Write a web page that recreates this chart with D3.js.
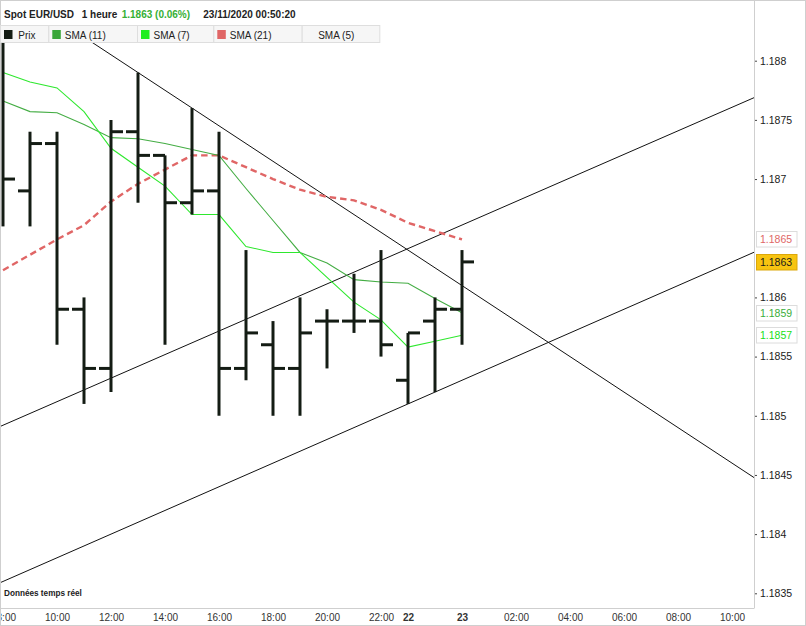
<!DOCTYPE html>
<html><head><meta charset="utf-8">
<script src="https://cdn.jsdelivr.net/npm/d3@7"></script>
<style>html,body{margin:0;padding:0;background:#fff}svg{display:block;font-family:"Liberation Sans",Arial,sans-serif}</style>
</head><body><svg id="c" width="806" height="626"></svg>
<script>
// ---------- DATA ----------
const opens  = [1.1882,1.1869,1.1873,1.1859,1.1854,1.1874,1.1872,1.1868,1.1869,1.1854,1.1856,1.1854,1.1858,1.1858,1.1858,1.1853,1.1858,1.1859];
const highs  = [1.1882,1.1874,1.1874,1.1860,1.1875,1.1879,1.1872,1.1876,1.1874,1.1864,1.1858,1.1860,1.1859,1.1862,1.1864,1.1857,1.1860,1.1864];
const lows   = [1.1866,1.1866,1.1856,1.1851,1.1852,1.1868,1.1856,1.1867,1.1850,1.1853,1.1850,1.1850,1.1854,1.1857,1.1855,1.1851,1.1852,1.1856];
const closes = [1.1870,1.1873,1.1859,1.1854,1.1874,1.1872,1.1868,1.1869,1.1854,1.1857,1.1854,1.1857,1.1858,1.1858,1.1856,1.1857,1.1859,1.1863];
const sma7   = [1.18790,1.18782,1.18777,1.18757,1.18726,1.18710,1.18694,1.18670,1.18670,1.18643,1.18638,1.18638,1.18617,1.18596,1.18581,1.18558,1.18563,1.18568];
const sma11  = [1.18766,1.18757,1.18756,1.18746,1.18735,1.18734,1.18730,1.18725,1.18720,1.18692,1.18665,1.18638,1.18629,1.18615,1.18613,1.18612,1.18599,1.18587];
const sma21  = [1.18623,1.18636,1.18649,1.18661,1.18681,1.18696,1.18708,1.18720,1.18720,1.18710,1.18700,1.18691,1.18685,1.18682,1.18674,1.18663,1.18656,1.18649];
const yTicks = [1.1835,1.184,1.1845,1.185,1.1855,1.186,1.1865,1.187,1.1875,1.188];
const yTickLabels = ["1.1835","1.184","1.1845","1.185","1.1855","1.186","","1.187","1.1875","1.188"];
const xTickIdx = [0,2,4,6,8,10,12,14,15,17,19,21,23,25,27];
const xTickLabels = ["08:00","10:00","12:00","14:00","16:00","18:00","20:00","22:00","22","23","02:00","04:00","06:00","08:00","10:00"];
const xTickBold = ["22","23"];
// trend lines: two anchor points each, [bar index, price]
const trendDown = [[5,1.1879],[7,1.1876]];
const trendUpHigh = [[0,1.18492],[27.84,1.18769]];
const trendUpLow = [[15,1.1851],[16,1.1852]];
const legendNames = ["Prix","SMA (11)","SMA (7)","SMA (21)","SMA (5)"];
const legendColors = ["#141c14","#3aa63a","#1fee1f","#e06666",null];

// ---------- LAYOUT ----------
const svg = d3.select("#c");
const PL=0, PR=754, PT=25, PB=608;
const x = d3.scaleLinear().domain([0,27.8148]).range([3,754]);
const y = d3.scaleLinear().domain([1.1835,1.188]).range([593.3,60.7]);
const barColor = "#141c14";
const cSma11 = "#44ad44", cSma7 = "#2ee82e", cSma21 = "#e06666";

svg.append("rect").attr("width",806).attr("height",626).attr("fill","#fff");

svg.append("defs").append("clipPath").attr("id","clip")
  .append("rect").attr("x",PL).attr("y",PT).attr("width",PR-PL).attr("height",PB-PT);
const g = svg.append("g").attr("clip-path","url(#clip)");

// trend lines
function extend(anchors){
  const [[i0,p0],[i1,p1]] = anchors;
  const s = (p1-p0)/(i1-i0);
  const d = x.domain();
  const a = d[0]-1, b = d[1]+1;
  return [[a,p0+s*(a-i0)],[b,p0+s*(b-i0)]];
}
[trendDown,trendUpHigh,trendUpLow].forEach(t=>{
  const pts = extend(t);
  g.append("line")
    .attr("x1",x(pts[0][0])).attr("y1",y(pts[0][1]))
    .attr("x2",x(pts[1][0])).attr("y2",y(pts[1][1]))
    .attr("stroke","#111").attr("stroke-width",1);
});

// SMA lines
const line = d3.line().x((d,i)=>x(i)).y(d=>y(d));
g.append("path").attr("d",line(sma21)).attr("fill","none").attr("stroke",cSma21)
  .attr("stroke-width",2.4).attr("stroke-dasharray","6.5,4");
g.append("path").attr("d",line(sma11)).attr("fill","none").attr("stroke",cSma11).attr("stroke-width",1.1);
g.append("path").attr("d",line(sma7)).attr("fill","none").attr("stroke",cSma7).attr("stroke-width",1.1);

// OHLC bars
const bars = g.selectAll("g.bar").data(opens.map((o,i)=>({i,o,h:highs[i],l:lows[i],c:closes[i]})))
  .enter().append("g").attr("class","bar");
const tick = 12;
bars.append("line").attr("x1",d=>x(d.i)).attr("x2",d=>x(d.i))
  .attr("y1",d=>y(d.h)).attr("y2",d=>y(d.l)).attr("stroke",barColor).attr("stroke-width",3);
bars.append("line").attr("x1",d=>x(d.i)-tick).attr("x2",d=>x(d.i))
  .attr("y1",d=>y(d.o)).attr("y2",d=>y(d.o)).attr("stroke",barColor).attr("stroke-width",3);
bars.append("line").attr("x1",d=>x(d.i)).attr("x2",d=>x(d.i)+tick)
  .attr("y1",d=>y(d.c)).attr("y2",d=>y(d.c)).attr("stroke",barColor).attr("stroke-width",3);

// axes
const yAxis = d3.axisRight(y).tickValues(yTicks).tickSize(3).tickPadding(3)
  .tickFormat((d,i)=>yTickLabels[i]);
const ya = svg.append("g").attr("transform",`translate(${PR},0)`).call(yAxis);
ya.select(".domain").remove();
ya.selectAll(".tick line").attr("stroke","#444");
ya.selectAll(".tick text").attr("fill","#1a1a1a").style("font-size","10.5px")
  .style("font-family","'Liberation Sans',Arial,sans-serif");
ya.selectAll(".tick").filter((d,i)=>yTickLabels[i]==="").select("line").remove();

const xAxis = d3.axisBottom(x).tickValues(xTickIdx).tickSize(0).tickPadding(5.6)
  .tickFormat((d,i)=>xTickLabels[i]);
const xa = svg.append("g").attr("transform",`translate(0,${PB})`).call(xAxis);
xa.select(".domain").remove();
xa.selectAll(".tick text").attr("fill","#333").style("font-size","10px")
  .style("font-family","'Liberation Sans',Arial,sans-serif")
  .style("font-weight",(d,i)=>xTickBold.includes(xTickLabels[i])?"bold":"normal");

// frame lines
svg.append("line").attr("x1",PR+0.5).attr("x2",PR+0.5).attr("y1",0).attr("y2",PB).attr("stroke","#cfcfcf");
svg.append("line").attr("x1",0).attr("x2",PR+0.5).attr("y1",PB+0.5).attr("y2",PB+0.5).attr("stroke","#cfcfcf");
svg.append("rect").attr("x",0.5).attr("y",0.5).attr("width",805).attr("height",625)
  .attr("fill","none").attr("stroke","#cfcfcf");

// value labels on right axis
const last = closes.length-1;
const vlabels = [
  {v:sma21[last], fill:"#fff", stroke:"#dcdcdc", color:cSma21},
  {v:closes[last], fill:"#f7c411", stroke:"#dca70a", color:"#1a1a1a"},
  {v:sma11[last], fill:"#fff", stroke:"#dcdcdc", color:"#3aad3a"},
  {v:sma7[last], fill:"#fff", stroke:"#dcdcdc", color:"#18e018"}
];
const vl = svg.selectAll("g.vl").data(vlabels).enter().append("g").attr("class","vl")
  .attr("transform",d=>`translate(756.5,${Math.round(y(d.v))-7.5})`);
vl.append("rect").attr("width",40.5).attr("height",15.5).attr("fill",d=>d.fill).attr("stroke",d=>d.stroke);
vl.append("text").attr("x",3.5).attr("y",11.8).text(d=>d3.format(".4f")(d.v))
  .attr("fill",d=>d.color).style("font-size","10.5px");

// header
const header = [
  {t:"Spot EUR/USD", x:4, c:"#222"},
  {t:"1 heure", x:81.7, c:"#222"},
  {t:"1.1863 (0.06%)", x:121.7, c:"#35b035"},
  {t:"23/11/2020 00:50:20", x:203.3, c:"#222"}
];
svg.selectAll("text.hd").data(header).enter().append("text").attr("class","hd")
  .attr("x",d=>d.x).attr("y",18.3).attr("fill",d=>d.c).text(d=>d.t)
  .style("font-size","10px").style("font-weight","bold");

// legend row
const cells = [0,48.3,137,213.3,301.7,379.3];
const lg = svg.append("g");
legendNames.forEach((n,i)=>{
  const x0 = cells[i], x1 = cells[i+1];
  lg.append("rect").attr("x",x0+0.5).attr("y",25.5).attr("width",x1-x0).attr("height",17)
    .attr("fill","#f6f6f6").attr("stroke","#dedede");
  if(legendColors[i]){
    lg.append("rect").attr("x",x0+4).attr("y",30).attr("width",8.5).attr("height",9)
      .attr("fill",legendColors[i]);
  }
  lg.append("text").attr("x",x0+(i===0?18.3:16.5)).attr("y",38.8).text(n)
    .attr("fill","#222").style("font-size","10px");
});

// footer note
svg.append("text").attr("x",4).attr("y",595.5).text("Données temps réel")
  .attr("fill","#222").style("font-size","8.2px").style("font-weight","bold");
</script></body></html>
